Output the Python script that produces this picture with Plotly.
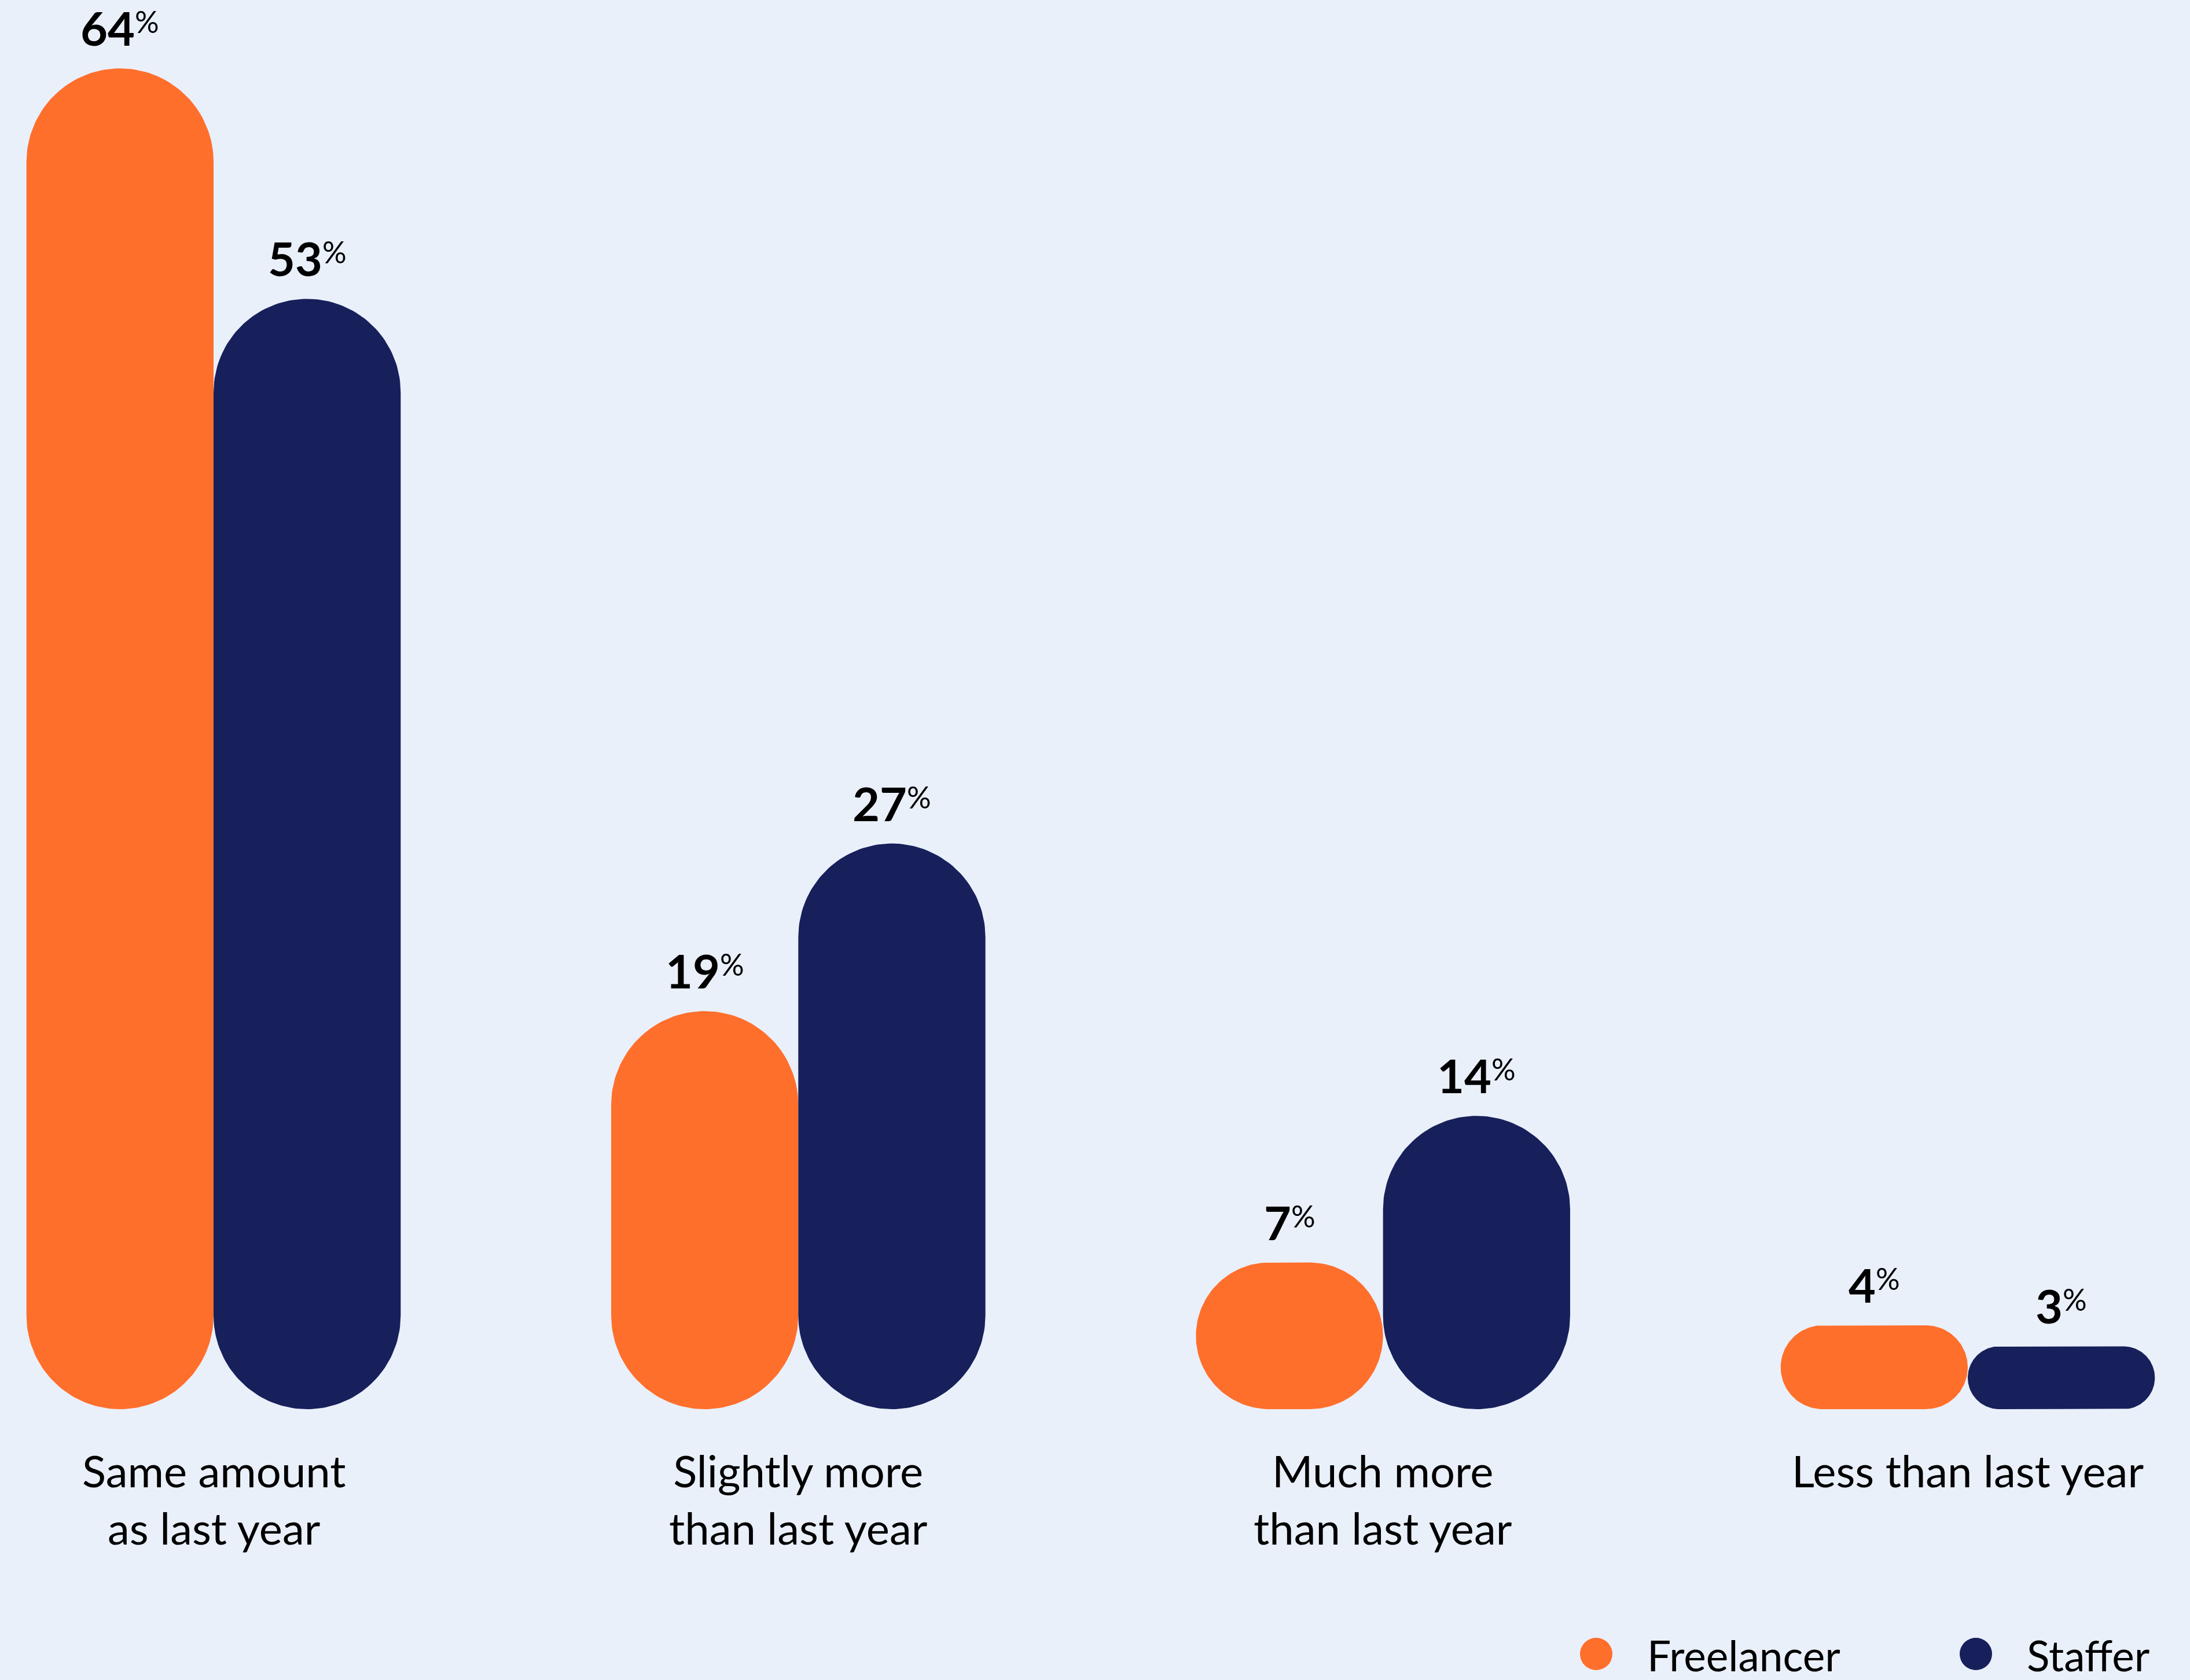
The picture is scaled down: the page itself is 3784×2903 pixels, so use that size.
import math
import plotly.graph_objects as go

# ---- data -------------------------------------------------------------
categories = [
    "Same amount<br>as last year",
    "Slightly more<br>than last year",
    "Much more<br>than last year",
    "Less than last year",
]
series_names = ["Freelancer", "Staffer"]
freelancer = [64, 19, 7, 4]
staffer = [53, 27, 14, 3]

# ---- styling ----------------------------------------------------------
COLORS = ["#FF6F2C", "#17205B"]
BG = "#E9F0FA"
FONT = "Lato"
TEXT = "#000000"

# canvas geometry (pixels)
W, H = 3784, 2903
M_BOTTOM = 468
PLOT_H = H - M_BOTTOM
PX_PER_PCT = 36.2          # vertical scale: pixels per percentage point
GROUP_STEP_PX = 1010.33    # horizontal scale: pixels per category step
FIRST_GROUP_PX = 369       # pixel position of the first category centre
BAR_W = 0.32               # bar width in category units

x_range = [-FIRST_GROUP_PX / GROUP_STEP_PX, (W - FIRST_GROUP_PX) / GROUP_STEP_PX]
y_range = [0, PLOT_H / PX_PER_PCT]


def pill(xc, v, n=40):
    """Outline of a bar with fully rounded ends (radius = half the short side)."""
    x0, x1 = xc - BAR_W / 2, xc + BAR_W / 2
    r = min(BAR_W * GROUP_STEP_PX, v * PX_PER_PCT) / 2
    rx, ry = r / GROUP_STEP_PX, r / PX_PER_PCT
    corners = [(x1 - rx, v - ry, 0), (x0 + rx, v - ry, 90),
               (x0 + rx, ry, 180), (x1 - rx, ry, 270)]
    xs, ys = [], []
    for cx, cy, a0 in corners:
        for k in range(n + 1):
            a = math.radians(a0 + 90 * k / n)
            xs.append(cx + rx * math.cos(a))
            ys.append(cy + ry * math.sin(a))
    xs.append(xs[0])
    ys.append(ys[0])
    return xs, ys


fig = go.Figure()
annotations = []
shapes = []

for s, (name, values) in enumerate(zip(series_names, [freelancer, staffer])):
    offset = (s - 0.5) * BAR_W
    xs_all, ys_all = [], []
    for i, v in enumerate(values):
        xc = i + offset
        xs, ys = pill(xc, v)
        xs_all += xs + [None]
        ys_all += ys + [None]
        annotations.append(dict(
            x=xc, y=v, xref="x", yref="y",
            text=(f"<b>{v}</b><span style='font-size:52px;"
                  f"baseline-shift:22px'>%</span>"),
            showarrow=False, xanchor="center", yanchor="bottom", yshift=20,
            font=dict(family=FONT, size=81, color=TEXT),
        ))
    fig.add_trace(go.Scatter(
        x=xs_all, y=ys_all, name=name, mode="lines", fill="toself",
        fillcolor=COLORS[s], line=dict(width=0, color=COLORS[s]),
        hoverinfo="name", showlegend=False,
    ))

# category labels under each group
for i, cat in enumerate(categories):
    annotations.append(dict(
        x=i, y=0, xref="x", yref="y", text=cat, showarrow=False,
        xanchor="center", yanchor="top", align="center", yshift=-58,
        font=dict(family=FONT, size=76, color=TEXT),
    ))

# legend: coloured dots with series names
legend_x_px = [2758, 3414]
legend_y = (PLOT_H - 2858) / PLOT_H
for s, name in enumerate(series_names):
    xp = legend_x_px[s] / W
    shapes.append(dict(
        type="circle", xref="paper", yref="paper",
        xsizemode="pixel", ysizemode="pixel", xanchor=xp, yanchor=legend_y,
        x0=-28, x1=28, y0=-28, y1=28,
        fillcolor=COLORS[s], line=dict(width=0),
    ))
    annotations.append(dict(
        x=xp, y=legend_y, xref="paper", yref="paper", text=name,
        showarrow=False, xanchor="left", yanchor="middle",
        valign="top", height=74, xshift=86, yshift=5,
        font=dict(family=FONT, size=73, color=TEXT),
    ))

fig.update_layout(
    width=W, height=H,
    margin=dict(l=0, r=0, t=0, b=M_BOTTOM),
    paper_bgcolor=BG, plot_bgcolor=BG,
    xaxis=dict(range=x_range, visible=False, fixedrange=True),
    yaxis=dict(range=y_range, visible=False, fixedrange=True),
    annotations=annotations, shapes=shapes,
    showlegend=False,
)

fig.write_html("out.html")
